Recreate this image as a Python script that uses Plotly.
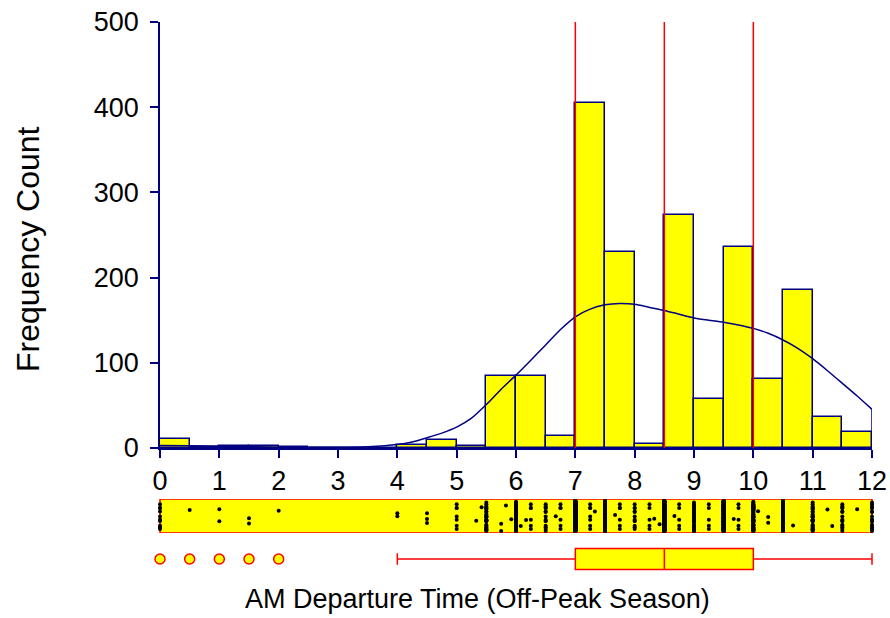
import numpy as np
import plotly.graph_objects as go

# ---- histogram: half-hour bins from 0 to 12 ----
bin_width = 0.5
bin_starts = np.arange(0, 12, bin_width)
bin_counts = [10, 1, 2, 2, 1, 0, 0, 0, 4, 9, 2, 85,
              85, 14, 405, 230, 5, 273, 58, 236, 81, 185, 36, 19]

# ---- smoothed density curve (scaled to counts) ----
curve_x = [0, 0.5, 1, 1.5, 2, 2.5, 3, 3.5, 4, 4.25, 4.5, 4.75, 5, 5.25,
           5.5, 5.75, 6, 6.25, 6.5, 6.75, 7, 7.25, 7.5, 7.75, 8, 8.25, 8.5,
           8.75, 9, 9.25, 9.5, 9.75, 10, 10.25, 10.5, 10.75, 11, 11.25,
           11.5, 11.75, 12]
curve_y = [3, 2.5, 2, 1.5, 1, 0.8, 0.8, 1.5, 4, 7, 12, 17.5, 24.5, 35,
           51, 69, 85.5, 103, 121, 139, 154, 163, 168, 169.5, 168.6, 165,
           161.5, 157, 152.6, 150, 147.5, 144.4, 140.4, 134.6, 126.8, 117,
           104.8, 90.7, 75.9, 61, 45.4]

# ---- box plot summary ----
box_q1, box_median, box_q3 = 7.0, 8.5, 10.0
box_low, box_high = 4.0, 12.0
box_outliers = [0, 0.5, 1, 1.5, 2]

# ---- dot strip: stacked departure times and scattered single times ----
strip_column_times = [0.0, 5.0, 5.5, 6.0, 6.25, 6.5, 6.75, 7.0, 7.25, 7.5,
                      7.75, 8.0, 8.25, 8.5, 8.75, 9.0, 9.25, 9.5, 9.75, 10.0,
                      10.5, 11.0, 11.5, 12.0]
strip_column_counts = [10, 7, 30, 60, 6, 14, 6, 300, 7, 180,
                       6, 12, 5, 230, 5, 45, 5, 200, 5, 70,
                       160, 30, 15, 19]
strip_single_times = [0.5, 1.0, 1.0, 1.5, 1.5, 2.0, 4.0, 4.0, 4.5, 4.5, 4.5,
                      5.33, 5.42, 5.75, 5.75, 5.83, 5.92, 6.08, 6.17, 6.67,
                      7.33, 7.67, 8.33, 8.42, 8.67, 9.67, 10.08, 10.25, 10.25,
                      10.67, 11.25, 11.33, 11.75]

NAVY = "#000080"
YELLOW = "#FFFF00"
RED = "#FF0000"
FONT = "Liberation Sans, Arial, sans-serif"

# pixel geometry of the plotting area
W, H = 890, 618
ML, MR, MT, MB = 150, 10, 22, 46
PW, PH = W - ML - MR, H - MT - MB
X0_PX, X12_PX = 160, 872
px_per_hour = (X12_PX - X0_PX) / 12.0


def ydom(top_px, bottom_px):
    return [(H - MB - bottom_px) / PH, (H - MB - top_px) / PH]


def px_x(px):
    return (px - ML) / PW


def px_y(py):
    return (H - MB - py) / PH


x_main_dom = [px_x(X0_PX), px_x(X12_PX)]
x_wide_range = [-(X0_PX - ML) / px_per_hour,
                12 + (ML + PW - X12_PX) / px_per_hour]

fig = go.Figure()

# histogram bars
fig.add_trace(go.Bar(
    x=bin_starts + bin_width / 2, y=bin_counts, width=bin_width,
    marker=dict(color=YELLOW, line=dict(color=NAVY, width=1.5)),
    xaxis="x", yaxis="y", hoverinfo="skip", showlegend=False))

# density curve
fig.add_trace(go.Scatter(
    x=curve_x, y=curve_y, mode="lines",
    line=dict(color=NAVY, width=1.5, shape="spline", smoothing=0.6),
    xaxis="x", yaxis="y", hoverinfo="skip", showlegend=False))
fig.add_trace(go.Scatter(
    x=[curve_x[-1], curve_x[-1]], y=[curve_y[-1], 0], mode="lines",
    line=dict(color=NAVY, width=1.5),
    xaxis="x", yaxis="y", hoverinfo="skip", showlegend=False))

# dot strip (library jitter spreads the points across the band)
strip_style = dict(
    orientation="h", y0=0, width=0.9, boxpoints="all", jitter=1, pointpos=0,
    fillcolor="rgba(0,0,0,0)", line=dict(width=0, color="rgba(0,0,0,0)"),
    marker=dict(color="black", size=4, line=dict(width=0)),
    xaxis="x2", yaxis="y2", hoverinfo="skip", showlegend=False)
for t, n in zip(strip_column_times, strip_column_counts):
    fig.add_trace(go.Box(x=[t] * n, **strip_style))
fig.add_trace(go.Box(x=strip_single_times, **strip_style))

# box plot
fig.add_trace(go.Box(
    orientation="h", y=[0], q1=[box_q1], median=[box_median], q3=[box_q3],
    lowerfence=[box_low], upperfence=[box_high], width=0.8,
    whiskerwidth=0.55, boxpoints=False,
    fillcolor=YELLOW, line=dict(color=RED, width=1.5),
    xaxis="x3", yaxis="y3", hoverinfo="skip", showlegend=False))
fig.add_trace(go.Scatter(
    x=box_outliers, y=[0] * len(box_outliers), mode="markers",
    marker=dict(symbol="circle", size=10, color=YELLOW,
                line=dict(color=RED, width=1.5)),
    cliponaxis=False,
    xaxis="x3", yaxis="y3", hoverinfo="skip", showlegend=False))

shapes = [
    # strip background band
    dict(type="rect", xref="x2", yref="y2", x0=0, x1=12, y0=-0.5, y1=0.5,
         fillcolor=YELLOW, line=dict(color=RED, width=1.5), layer="below"),
]
# quartile / median reference lines over the histogram
for q in (box_q1, box_median, box_q3):
    shapes.append(dict(type="line", xref="x", yref="y", x0=q, x1=q,
                       y0=0, y1=500, line=dict(color=RED, width=1.5),
                       layer="above"))

tick_font = dict(family=FONT, size=27, color="black")

fig.update_layout(
    width=W, height=H,
    margin=dict(l=ML, r=MR, t=MT, b=MB, autoexpand=False),
    paper_bgcolor="white", plot_bgcolor="rgba(0,0,0,0)",
    boxmode="overlay", bargap=0,
    shapes=shapes,
    xaxis=dict(domain=x_main_dom, range=[0, 12], anchor="y",
               tickmode="array", tickvals=list(range(13)),
               ticks="outside", ticklen=8, tickwidth=1.5, tickcolor=NAVY,
               showline=True, linecolor=NAVY, linewidth=1.5,
               showgrid=False, zeroline=False, tickfont=tick_font,
               automargin=False),
    yaxis=dict(domain=ydom(22, 448), range=[0, 500], anchor="x",
               tickmode="array", tickvals=[0, 100, 200, 300, 400, 500],
               ticks="outside", ticklen=8, tickwidth=1.5, tickcolor=NAVY,
               showline=True, linecolor=NAVY, linewidth=1.5,
               showgrid=False, zeroline=False, tickfont=tick_font,
               ticklabelstandoff=6, automargin=False),
    xaxis2=dict(domain=[0, 1], range=x_wide_range, anchor="y2",
                visible=False),
    yaxis2=dict(domain=ydom(499, 533), range=[-0.5, 0.5], anchor="x2",
                visible=False),
    xaxis3=dict(domain=[0, 1], range=x_wide_range, anchor="y3",
                visible=False),
    yaxis3=dict(domain=ydom(546, 572), range=[-0.5, 0.5], anchor="x3",
                visible=False),
    annotations=[
        dict(text="Frequency Count", xref="paper", yref="paper",
             x=px_x(28), y=px_y(249), textangle=-90, showarrow=False,
             xanchor="center", yanchor="middle",
             font=dict(family=FONT, size=32, color="black")),
        dict(text="AM Departure Time (Off-Peak Season)", xref="paper",
             yref="paper", x=px_x(477), y=px_y(599), showarrow=False,
             xanchor="center", yanchor="middle",
             font=dict(family=FONT, size=27, color="black")),
    ],
)

fig.write_html("out.html")
